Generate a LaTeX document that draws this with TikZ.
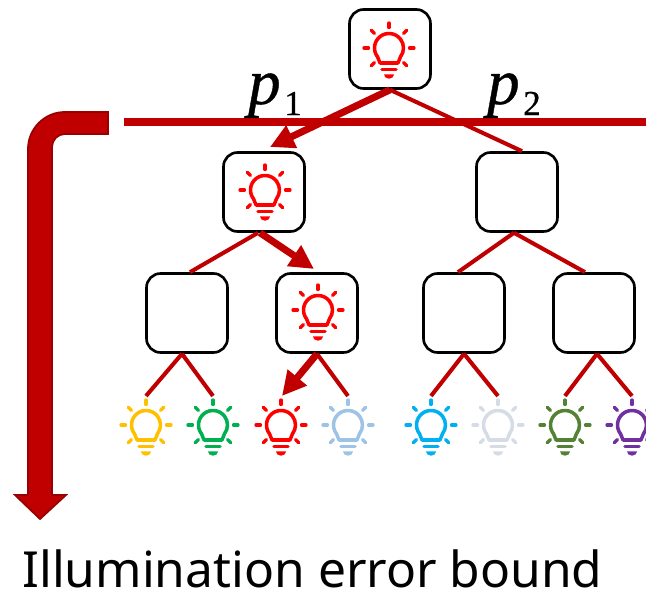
\documentclass[tikz,border=0pt]{standalone}
\usepackage{fontspec}
\setmainfont{Noto Sans}
\newfontfamily\labelfont[FakeBold=0.6]{Liberation Serif}
\usetikzlibrary{arrows.meta}

\definecolor{edgered}{HTML}{C00000}
\definecolor{edgedark}{HTML}{990000}

\newcommand{\problabel}[1]{{\labelfont\fontsize{37}{40}\selectfont\itshape p}\hspace{2pt}\raisebox{-6.3pt}{\labelfont\fontsize{20}{22}\selectfont #1}}

\tikzset{
  box/.style={draw=black, fill=white, line width=1.5pt, rounded corners=8pt, minimum width=1.62cm, minimum height=1.58cm, inner sep=0pt},
  edge/.style={edgered, line width=2.3pt},
  pathedge/.style={edgered, line width=4pt, -{Triangle[length=13.7pt, width=13.5pt]}},
  pics/bulb/.style={code={
    \draw[#1, line width=2pt, line cap=round, line join=round] (-9,-15) -- (218:14.5) arc[start angle=218, end angle=-38, radius=14.5] -- (9,-15) -- cycle;
    \draw[#1, line width=2pt, line cap=round] (-7,-21.5) -- (7,-21.5);
    \fill[#1] (-5,-26.5) -- (5,-26.5) arc[start angle=0, end angle=-180, x radius=5, y radius=4.2] -- cycle;
    \foreach \a in {0,45,90,135,180,225,315} {
      \draw[#1, line width=1.9pt, line cap=round] (\a:20.5) -- (\a:25);
    }
  }}
}

\begin{document}
\begin{tikzpicture}[x=0.02cm, y=0.02cm]
  \useasboundingbox (0,0) rectangle (646,595);

  % Tree nodes
  \node[box] (root) at (390,546) {};
  \node[box] (n1) at (264,403) {};
  \node[box] (n2) at (517,403) {};
  \node[box] (n11) at (187,282) {};
  \node[box] (n12) at (317,282) {};
  \node[box] (n21) at (464,282) {};
  \node[box] (n22) at (594,282) {};

  % Leaf lights
  \foreach \x/\c/\n in {146/FFC000/a, 213/00B050/b, 281/FF0000/c, 348/9DC3E6/d, 431/00B0F0/e, 498/D6DCE5/f, 565/548235/g, 632/7030A0/h} {
    \definecolor{leafcol}{HTML}{\c}
    \pic at (\x,170) {bulb=leafcol};
    \coordinate (l\n) at (\x,199);
  }
  \pic at (389,547) {bulb=red};
  \pic at (265,405) {bulb=red};
  \pic at (318,285) {bulb=red};

  % Arrow tips
  \coordinate (tipA) at (270,448);
  \coordinate (tipB) at (314,326);
  \coordinate (tipC) at (282,199);

  % Connectors
  \draw[edge] (root.south) -- ([xshift=0.1cm]n2.north);
  \draw[edge] ([xshift=-0.12cm]n1.south) -- ([xshift=0.06cm]n11.north);
  \draw[edge] ([xshift=-0.06cm]n2.south) -- ([xshift=-0.12cm]n21.north);
  \draw[edge] ([xshift=-0.06cm]n2.south) -- ([xshift=-0.18cm]n22.north);
  \draw[edge] ([xshift=-0.1cm]n11.south) -- (la);
  \draw[edge] ([xshift=-0.1cm]n11.south) -- (lb);
  \draw[edge] (n12.south) -- (ld);
  \draw[edge] (n21.south) -- (le);
  \draw[edge] (n21.south) -- (lf);
  \draw[edge] ([xshift=0.06cm]n22.south) -- (lg);
  \draw[edge] ([xshift=0.06cm]n22.south) -- (lh);
  \draw[pathedge] (root.south) -- (tipA);
  \draw[pathedge] ([xshift=-0.08cm]n1.south) -- (tipB);
  \draw[pathedge] (n12.south) -- (tipC);

  % Split line and labels
  \coordinate (splitL) at (124,473);
  \coordinate (splitR) at (646,473);
  \draw[edgered, line width=4.3pt] (splitL) -- (splitR);
  \node[inner sep=0pt, anchor=base] (p1) at (275,491) {\problabel{1}};
  \node[inner sep=0pt, anchor=base] (p2) at (514,491) {\problabel{2}};

  % Bent arrow
  \filldraw[fill=edgered, draw=edgedark, line width=1pt, line join=miter]
    (108,483) -- (65,483) arc[start angle=90, end angle=180, radius=37]
    -- (28,100) -- (15,100) -- (40,76) -- (66,100) -- (52,100)
    -- (52,448) arc[start angle=180, end angle=90, radius=13] -- (108,461) -- cycle;

  % Caption
  \node[font=\fontsize{28.3}{34}\selectfont, anchor=base west, inner sep=0pt] (caption) at (22,7.5) {Illumination error bound};
\end{tikzpicture}
\end{document}
